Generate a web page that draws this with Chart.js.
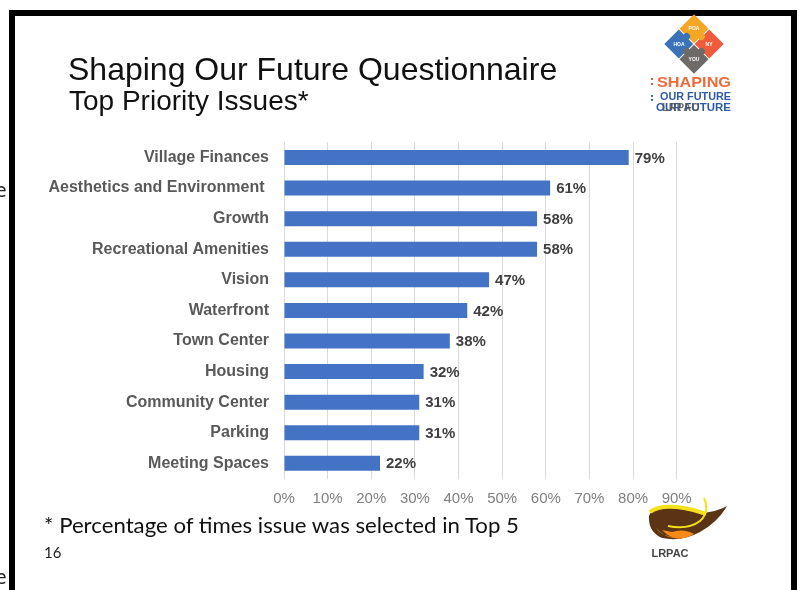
<!DOCTYPE html>
<html>
<head>
<meta charset="utf-8">
<script src="https://cdn.jsdelivr.net/npm/chart.js@4.4.1/dist/chart.umd.min.js"></script>
<style>
  html, body { margin: 0; padding: 0; background: #fff; }
  #wrap { position: relative; width: 799px; height: 590px; overflow: hidden; background: #fff; }
  #grafico { position: absolute; left: 0; top: 0; }
  #deco { position: absolute; left: 0; top: 0; pointer-events: none; }
</style>
</head>
<body>
<div id="wrap">
  <canvas id="grafico" width="799" height="590"></canvas>
  <svg id="deco" width="799" height="590" xmlns="http://www.w3.org/2000/svg">
    <!-- marco negro de la diapositiva -->
    <rect x="9" y="10" width="6" height="580" fill="#000"/>
    <rect x="9" y="10" width="788" height="6" fill="#000"/>
    <rect x="791" y="10" width="6" height="580" fill="#000"/>
    <!-- restos de texto a la izquierda -->
    <text x="-5" y="197" font-family="DejaVu Sans" font-size="19" fill="#222">e</text>
    <text x="-5" y="584" font-family="DejaVu Sans" font-size="19" fill="#222">e</text>

    <!-- titulo -->
    <text x="68" y="80" font-family="Liberation Sans, Arial" font-size="32" fill="#111">Shaping Our Future Questionnaire</text>
    <text x="69" y="110" font-family="Liberation Sans, Arial" font-size="28" fill="#111">Top Priority Issues*</text>

    <!-- logo superior -->
    <g transform="translate(694,44) rotate(45)">
      <rect x="-21" y="-21" width="20.5" height="20.5" fill="#F5A623"/>
      <rect x="0.5" y="-21" width="20.5" height="20.5" fill="#EF5B3B"/>
      <rect x="-21" y="0.5" width="20.5" height="20.5" fill="#3C72B8"/>
      <rect x="0.5" y="0.5" width="20.5" height="20.5" fill="#6E6A67"/>
      <circle cx="-10.5" cy="0" r="3.5" fill="#3C72B8"/>
      <circle cx="0" cy="-10.5" r="3.5" fill="#F5A623"/>
      <circle cx="10.5" cy="0" r="3.5" fill="#6E6A67"/>
      <circle cx="0" cy="10.5" r="3.5" fill="#6E6A67"/>
    </g>
    <text x="694" y="30" font-family="Liberation Sans" font-weight="bold" font-size="5" fill="#fff" text-anchor="middle">POA</text>
    <text x="709" y="46" font-family="Liberation Sans" font-weight="bold" font-size="5" fill="#fff" text-anchor="middle">NY</text>
    <text x="679" y="46" font-family="Liberation Sans" font-weight="bold" font-size="5" fill="#fff" text-anchor="middle">HOA</text>
    <text x="694" y="61" font-family="Liberation Sans" font-weight="bold" font-size="5" fill="#fff" text-anchor="middle">YOU</text>
    <rect x="651" y="78" width="2" height="2" fill="#EF5B3B"/>
    <rect x="651" y="83" width="2" height="2" fill="#EF5B3B"/>
    <rect x="651" y="95" width="2" height="2" fill="#3C72B8"/>
    <rect x="651" y="99" width="2" height="2" fill="#3C72B8"/>
    <text x="657" y="87" font-family="Liberation Sans" font-weight="bold" font-size="15" fill="#EE6B3F" textLength="74" lengthAdjust="spacingAndGlyphs">SHAPING</text>
    <text x="660" y="100" font-family="Liberation Sans" font-weight="bold" font-size="11" fill="#2E5BA8" textLength="71" lengthAdjust="spacingAndGlyphs">OUR FUTURE</text>
    <text x="656" y="111" font-family="Liberation Sans" font-weight="bold" font-size="11" fill="#2E5BA8" textLength="75" lengthAdjust="spacingAndGlyphs">OUR FUTURE</text>
    <text x="662" y="111" font-family="Liberation Sans" font-weight="bold" font-size="11" fill="#555" opacity="0.85">LRPAC</text>

    <!-- nota al pie -->
    <text x="44" y="533" font-family="Lato, Open Sans" font-size="22" fill="#111" textLength="475" lengthAdjust="spacingAndGlyphs">* Percentage of times issue was selected in Top 5</text>
    <text x="44" y="558" font-family="Lato, Open Sans" font-size="15" fill="#222">16</text>

    <!-- logo inferior -->
    <defs>
      <radialGradient id="naranja" cx="0.5" cy="0.3" r="0.7">
        <stop offset="0" stop-color="#FFD21A"/>
        <stop offset="1" stop-color="#F07A12"/>
      </radialGradient>
    </defs>
    <path d="M649,516 Q652,506 672,508 Q690,510 704,513 Q716,512 727,506 Q718,522 700,532 Q682,542 662,538 Q648,532 649,516 Z" fill="#5A3414"/>
    <path d="M656,528 Q672,546 696,532 Q680,540 668,536 Q660,534 656,528 Z" fill="url(#naranja)"/>
    <path d="M662,530 Q676,545 694,534 Q684,528 672,532 Z" fill="#F58A1A"/>
    <path d="M650,512 Q660,504 684,508 Q696,510 706,514" fill="none" stroke="#F5E11A" stroke-width="4"/>
    <path d="M704,498 Q710,512 700,521 Q688,530 668,526" fill="none" stroke="#F5E11A" stroke-width="2"/>
    <text x="670" y="557" font-family="Liberation Sans" font-weight="bold" font-size="11" fill="#444" text-anchor="middle">LRPAC</text>
  </svg>
</div>
<script>
// Datos del grafico
const categorias = ['Village Finances', 'Aesthetics and Environment ', 'Growth', 'Recreational Amenities',
    'Vision', 'Waterfront', 'Town Center', 'Housing', 'Community Center', 'Parking', 'Meeting Spaces'];
const porcentajes = [79, 61, 58, 58, 47, 42, 38, 32, 31, 31, 22];
const marcasEje = [0, 10, 20, 30, 40, 50, 60, 70, 80, 90];

// Plugin para escribir el valor al final de cada barra
const etiquetasValor = {
    id: 'etiquetasValor',
    afterDatasetsDraw(chart) {
        const ctx = chart.ctx;
        const meta = chart.getDatasetMeta(0);
        ctx.save();
        ctx.font = 'bold 15px "Liberation Sans", Arial';
        ctx.fillStyle = '#404040';
        ctx.textAlign = 'left';
        ctx.textBaseline = 'middle';
        meta.data.forEach(function (barra, i) {
            ctx.fillText(porcentajes[i] + '%', barra.x + 6, barra.y + 1);
        });
        ctx.restore();
    }
};

function crearGraficoBarras(canvasId) {
    const ctx = document.getElementById(canvasId);
    new Chart(ctx, {
        type: 'bar',
        data: {
            labels: categorias,
            datasets: [{
                data: porcentajes,
                backgroundColor: '#4472C4',
                borderWidth: 0,
                categoryPercentage: 1,
                barPercentage: 0.49
            }]
        },
        options: {
            indexAxis: 'y',
            responsive: false,
            animation: false,
            events: [],
            layout: { padding: { left: 20, top: 142.2, right: 122.3, bottom: 81.4 } },
            plugins: { legend: { display: false }, tooltip: { enabled: false } },
            scales: {
                x: {
                    min: 0,
                    max: 90,
                    afterBuildTicks: (scale) => { scale.ticks = marcasEje.map(v => ({ value: v })); },
                    afterFit: (scale) => { scale.height = 30; },
                    grid: { color: '#d9d9d9', drawTicks: false },
                    border: { display: false },
                    ticks: {
                        padding: 11,
                        color: '#7f7f7f',
                        font: { family: '"Liberation Sans", Arial', size: 15 },
                        callback: (v) => v + '%'
                    }
                },
                y: {
                    afterFit: (scale) => { scale.width = 264; },
                    grid: { display: false, drawTicks: false },
                    border: { display: false },
                    ticks: {
                        padding: 15,
                        color: '#595959',
                        font: { family: '"Liberation Sans", Arial', size: 16, weight: 'bold' }
                    }
                }
            }
        },
        plugins: [etiquetasValor]
    });
}

crearGraficoBarras('grafico');
</script>
</body>
</html>
